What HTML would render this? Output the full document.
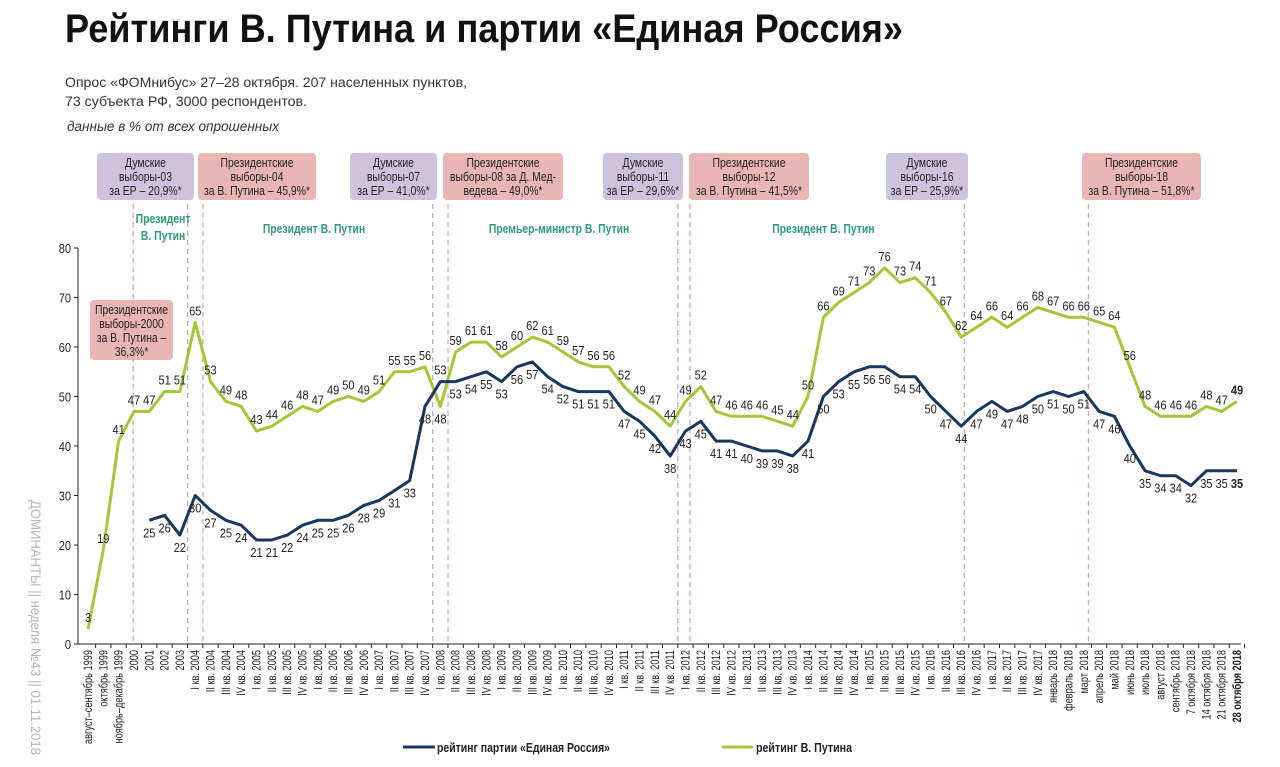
<!DOCTYPE html>
<html><head><meta charset="utf-8">
<style>
body{margin:0;background:#fff;}
svg{display:block;font-family:"Liberation Sans Narrow","Liberation Sans","DejaVu Sans",sans-serif;}
</style></head>
<body>
<svg id="chart" width="1280" height="767" viewBox="0 0 1280 767" xmlns="http://www.w3.org/2000/svg">
<text x="65" y="42" font-size="40" font-weight="bold" textLength="838" lengthAdjust="spacingAndGlyphs" fill="#111">Рейтинги В. Путина и партии «Единая Россия»</text>
<text x="65" y="87" font-size="14" textLength="402" lengthAdjust="spacingAndGlyphs" fill="#333">Опрос «ФОМнибус» 27–28 октября. 207 населенных пунктов,</text>
<text x="65" y="106" font-size="14" textLength="242" lengthAdjust="spacingAndGlyphs" fill="#333">73 субъекта РФ, 3000 респондентов.</text>
<text x="67" y="131" font-size="14" font-style="italic" textLength="212" lengthAdjust="spacingAndGlyphs" fill="#333">данные в % от всех опрошенных</text>
<text transform="translate(31,500) rotate(90)" font-size="14" fill="#b5b5b5" textLength="255" lengthAdjust="spacingAndGlyphs">ДОМИНАНТЫ  ||  неделя №43 || 01.11.2018</text>
<g id="plot"></g>
<g>
<line x1="403" y1="747" x2="435" y2="747" stroke="#17375e" stroke-width="3"/>
<text x="437" y="752" font-size="13" font-weight="bold" fill="#222" textLength="173" lengthAdjust="spacingAndGlyphs">рейтинг партии «Единая Россия»</text>
<line x1="722" y1="747" x2="753" y2="747" stroke="#a4c639" stroke-width="3"/>
<text x="756" y="752" font-size="13" font-weight="bold" fill="#222" textLength="96" lengthAdjust="spacingAndGlyphs">рейтинг В. Путина</text>
</g>
</svg>
<script>
const categories = ["август–сентябрь 1999","октябрь 1999","ноябрь–декабрь 1999","2000","2001","2002","2003",
"I кв. 2004","II кв. 2004","III кв. 2004","IV кв. 2004","I кв. 2005","II кв. 2005","III кв. 2005","IV кв. 2005",
"I кв. 2006","II кв. 2006","III кв. 2006","IV кв. 2006","I кв. 2007","II кв. 2007","III кв. 2007","IV кв. 2007",
"I кв. 2008","II кв. 2008","III кв. 2008","IV кв. 2008","I кв. 2009","II кв. 2009","III кв. 2009","IV кв. 2009",
"I кв. 2010","II кв. 2010","III кв. 2010","IV кв. 2010","I кв. 2011","II кв. 2011","III кв. 2011","IV кв. 2011",
"I кв. 2012","II кв. 2012","III кв. 2012","IV кв. 2012","I кв. 2013","II кв. 2013","III кв. 2013","IV кв. 2013",
"I кв. 2014","II кв. 2014","III кв. 2014","IV кв. 2014","I кв. 2015","II кв. 2015","III кв. 2015","IV кв. 2015",
"I кв. 2016","II кв. 2016","III кв. 2016","IV кв. 2016","I кв. 2017","II кв. 2017","III кв. 2017","IV кв. 2017",
"январь 2018","февраль 2018","март 2018","апрель 2018","май 2018","июнь 2018","июль 2018","август 2018",
"сентябрь 2018","7 октября 2018","14 октября 2018","21 октября 2018","28 октября 2018"];
const putinValues = [3,19,41,47,47,51,51,65,53,49,48,43,44,46,48,47,49,50,49,51,55,55,56,48,59,61,61,58,60,62,61,59,57,56,56,52,49,47,44,49,52,47,46,46,46,45,44,50,66,69,71,73,76,73,74,71,67,62,64,66,64,66,68,67,66,66,65,64,56,48,46,46,46,48,47,49];
const erValues = [null,null,null,null,25,26,22,30,27,25,24,21,21,22,24,25,25,26,28,29,31,33,48,53,53,54,55,53,56,57,54,52,51,51,51,47,45,42,38,43,45,41,41,40,39,39,38,41,50,53,55,56,56,54,54,50,47,44,47,49,47,48,50,51,50,51,47,46,40,35,34,34,32,35,35,35];
const yTicks = [0,10,20,30,40,50,60,70,80];
const periods = [["Президент","В. Путин",3,6.8],["Президент В. Путин","",7,22.5],["Премьер-министр В. Путин","",23,38.5],["Президент В. Путин","",39,57]];
const elections = [
 {lines:["Думские","выборы-03","за ЕР – 20,9%*"],kind:"duma",at:6.5,x0:97,x1:194},
 {lines:["Президентские","выборы-04","за В. Путина – 45,9%*"],kind:"pres",at:7.5,x0:198,x1:316},
 {lines:["Думские","выборы-07","за ЕР – 41,0%*"],kind:"duma",at:22.5,x0:350,x1:437},
 {lines:["Президентские","выборы-08 за Д. Мед-","ведева – 49,0%*"],kind:"pres",at:23.5,x0:443,x1:563},
 {lines:["Думские","выборы-11","за ЕР – 29,6%*"],kind:"duma",at:38.5,x0:603,x1:683},
 {lines:["Президентские","выборы-12","за В. Путина – 41,5%*"],kind:"pres",at:39.3,x0:689,x1:809},
 {lines:["Думские","выборы-16","за ЕР – 25,9%*"],kind:"duma",at:57.2,x0:886,x1:968},
 {lines:["Президентские","выборы-18","за В. Путина – 51,8%*"],kind:"pres",at:65.3,x0:1082,x1:1201}
];
const NS="http://www.w3.org/2000/svg";
const X0=88, X1=1237, Y0=644, Y80=248;
const xs=i=>X0+(X1-X0)*i/(categories.length-1);
const ys=v=>Y0-(Y0-Y80)*v/80;
const g=document.getElementById('plot');
function mk(tag,attrs,parent){const e=document.createElementNS(NS,tag);for(const k in attrs)e.setAttribute(k,attrs[k]);(parent||g).appendChild(e);return e;}
function condense(t,f){const w=t.getComputedTextLength();if(w>0){t.setAttribute('textLength',(w*f).toFixed(1));t.setAttribute('lengthAdjust','spacingAndGlyphs');}}
let ax=mk('line',{x1:78,y1:Y0,x2:X1+4,y2:Y0,stroke:'#222','stroke-width':1});


let ay=mk('line',{x1:78,y1:Y0,x2:78,y2:Y80,stroke:'#222','stroke-width':1});


yTicks.forEach(t=>{
 mk('line',{x1:74,y1:ys(t),x2:78,y2:ys(t),stroke:'#222'});
 const tx=mk('text',{x:71,y:ys(t)+5,'font-size':13,'text-anchor':'end',fill:'#222'});
 tx.textContent=t;
 
 
 condense(tx,0.85);
});
categories.forEach((c,i)=>{
 const x=xs(i);
 mk('line',{x1:x+7.6,y1:Y0,x2:x+7.6,y2:Y0+4,stroke:'#222'});
 const tx=mk('text',{transform:`translate(${x+4},650) rotate(-90)`,'font-size':11.5,'text-anchor':'end',fill:'#222','font-weight':i===categories.length-1?'bold':'normal'});
 tx.textContent=c;
 
 
 condense(tx,0.8);
});
elections.forEach(e=>{
 const col=e.kind==='duma'?'#cdc3de':'#e9b5b5';
 const lc=e.kind==='duma'?'#b8aad6':'#eaa0a0';
 const ln=mk('line',{x1:xs(e.at),y1:204,x2:xs(e.at),y2:Y0,stroke:lc,'stroke-width':1.3,'stroke-dasharray':'5,4'});
 
 
 const r=mk('rect',{x:e.x0,y:153,width:e.x1-e.x0,height:47,rx:4,fill:col});
 
 
 e.lines.forEach((l,k)=>{
  const t=mk('text',{x:(e.x0+e.x1)/2,y:167+k*14,'font-size':13,'text-anchor':'middle',fill:'#222'});
  t.textContent=l;
  
  
  condense(t,0.8);
 });
});
const dl=mk('line',{x1:xs(2.95),y1:204,x2:xs(2.95),y2:Y0,stroke:'#eaa0a0','stroke-width':1.3,'stroke-dasharray':'5,4'});


const b0=mk('rect',{x:90,y:300,width:83,height:60,rx:4,fill:'#e9b5b5'});


["Президентские","выборы-2000","за В. Путина –","36,3%*"].forEach((l,k)=>{
 const t=mk('text',{x:131.5,y:314+k*14,'font-size':13,'text-anchor':'middle',fill:'#222'});
 t.textContent=l;
 
 
 condense(t,0.8);
});
periods.forEach(p=>{
 const cx=(xs(p[2])+xs(p[3]))/2;
 const t=mk('text',{x:cx,y:p[1]?223:233,'font-size':13,'font-weight':'bold','text-anchor':'middle',fill:'#2e9a78'});
 t.textContent=p[0];
 
 
 condense(t,0.8);
 if(p[1]){const t2=mk('text',{x:cx,y:240,'font-size':13,'font-weight':'bold','text-anchor':'middle',fill:'#2e9a78'});t2.textContent=p[1];
 
 
 condense(t2,0.8);}
});
function series(vals,color,name){
 let d='';vals.forEach((v,i)=>{if(v==null)return;d+=(d?'L':'M')+xs(i).toFixed(1)+','+ys(v).toFixed(1);});
 const p=mk('path',{d:d,fill:'none',stroke:color,'stroke-width':3,'stroke-linejoin':'round'});
 
 
}
series(putinValues,'#a4c639','putin-line');
series(erValues,'#17375e','er-line');
putinValues.forEach((v,i)=>{
 const below=(i===23);
 const t=mk('text',{x:xs(i),y:below?ys(v)+17:ys(v)-7,'font-size':13,'text-anchor':'middle',fill:'#222','font-weight':i===categories.length-1?'bold':'normal'});
 t.textContent=v;
 
 
 condense(t,0.85);
});
erValues.forEach((v,i)=>{
 if(v==null)return;
 const above=(i===23);
 const t=mk('text',{x:xs(i),y:above?ys(v)-7:ys(v)+17,'font-size':13,'text-anchor':'middle',fill:'#222','font-weight':i===categories.length-1?'bold':'normal'});
 t.textContent=v;
 
 
 condense(t,0.85);
});
</script>
</body></html>
